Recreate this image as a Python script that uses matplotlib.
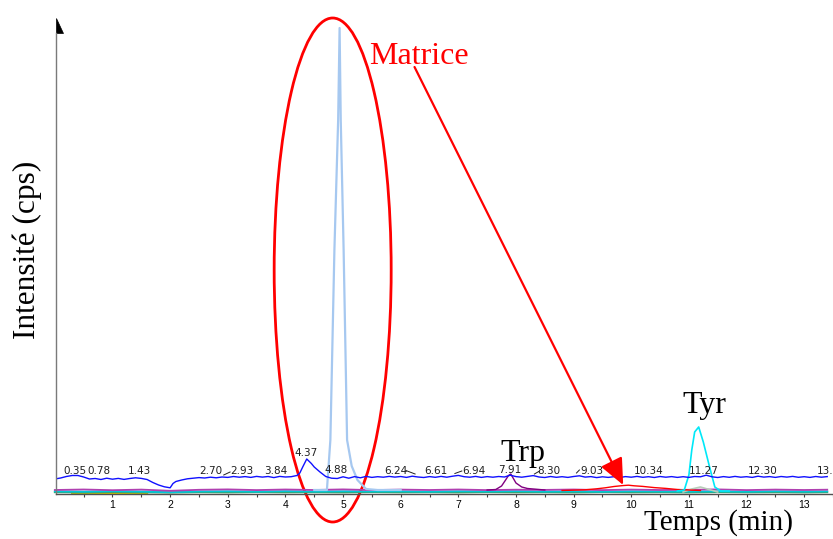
import matplotlib
matplotlib.use('Agg')
import matplotlib.pyplot as plt
from matplotlib.patches import Ellipse, Polygon

# Chromatogram traces (time in min, intensity in arbitrary cps units)
blue_t = [0.0, 0.1, 0.2, 0.3, 0.4, 0.5, 0.6, 0.7, 0.8, 0.9, 1.0, 1.1, 1.2, 1.3, 1.4, 1.5,
          1.6, 1.7, 1.8, 1.9, 2.0, 2.05, 2.1, 2.2, 2.3, 2.4, 2.5, 2.6, 2.7, 2.8, 2.9, 3.0,
          3.1, 3.2, 3.3, 3.4, 3.5, 3.6, 3.7, 3.8, 3.9, 4.0, 4.1, 4.2, 4.25, 4.3, 4.37, 4.45,
          4.5, 4.6, 4.7, 4.8, 4.9, 5.0, 5.1, 5.2, 5.3, 5.4, 5.5, 5.6, 5.7, 5.8, 5.9, 6.0,
          6.1, 6.2, 6.3, 6.4, 6.5, 6.6, 6.7, 6.8, 6.9, 7.0, 7.1, 7.2, 7.3, 7.4, 7.5, 7.6,
          7.7, 7.8, 7.9, 8.0, 8.1, 8.2, 8.3, 8.4, 8.5, 8.6, 8.7, 8.8, 8.9, 9.0, 9.1, 9.2,
          9.3, 9.4, 9.5, 9.6, 9.7, 9.8, 9.9, 10.0, 10.1, 10.2, 10.3, 10.4, 10.5, 10.6, 10.7,
          10.8, 10.9, 11.0, 11.1, 11.2, 11.3, 11.4, 11.5, 11.6, 11.7, 11.8, 11.9, 12.0, 12.1,
          12.2, 12.3, 12.4, 12.5, 12.6, 12.7, 12.8, 12.9, 13.0, 13.1, 13.2, 13.3, 13.4]
blue_y = [15.0, 16.0, 17.5, 18.5, 18.5, 17.0, 15.0, 15.5, 14.5, 15.8, 14.8, 15.6, 14.6, 15.5, 16.2, 15.6,
          14.5, 11.5, 9.0, 7.2, 6.2, 10.5, 12.5, 14.0, 15.2, 15.8, 16.4, 16.0, 16.8, 16.2, 17.0, 16.6,
          17.5, 16.8, 17.4, 16.6, 17.6, 16.9, 17.5, 16.4, 17.6, 17.0, 17.3, 18.5, 21.0, 27.0, 35.0, 30.5,
          27.0, 22.0, 17.5, 15.8, 15.5, 17.2, 15.8, 17.4, 16.2, 17.6, 16.6, 17.3, 16.8, 17.6, 16.9, 17.5,
          16.6, 17.8, 17.0, 16.5, 17.4, 16.7, 17.6, 16.8, 17.8, 18.6, 17.3, 16.8, 17.6, 16.6, 17.4, 16.8,
          17.5, 17.0, 18.8, 17.4, 16.8, 17.6, 18.4, 17.0, 16.5, 17.5, 16.7, 17.3, 16.6, 17.5, 18.2, 16.9,
          17.4, 16.4, 17.2, 16.6, 17.3, 16.5, 17.4, 16.8, 17.6, 16.7, 17.3, 16.5, 17.5, 16.8, 17.4,
          16.6, 17.3, 16.6, 17.5, 17.2, 18.8, 17.2, 16.5, 17.4, 16.7, 17.6, 16.8, 17.3, 16.6,
          17.8, 16.9, 17.4, 16.6, 17.5, 16.9, 17.6, 16.7, 17.3, 16.6, 17.5, 16.8, 17.4]

matrix_t = [4.50, 4.72, 4.78, 4.85, 4.915, 4.94, 4.96, 5.01, 5.07, 5.15, 5.25, 5.40, 5.60, 6.00]
matrix_y = [4, 4, 54, 244, 374, 466, 374, 244, 54, 28, 14, 5, 4, 4]

trp_t = [7.5, 7.65, 7.75, 7.82, 7.87, 7.91, 7.95, 8.0, 8.1, 8.2, 8.3, 8.5]
trp_y = [4, 4.5, 8, 14, 18.5, 20, 16, 11, 7, 5.5, 5, 4]

tyr_t = [10.8, 10.92, 11.0, 11.05, 11.1, 11.17, 11.25, 11.35, 11.45, 11.55, 11.7]
tyr_y = [3, 4, 19, 44, 62, 67, 52, 29, 7, 3, 3]

red_t = [8.8, 9.2, 9.4, 9.55, 9.7, 9.85, 9.95, 10.05, 10.2, 10.4, 10.6, 10.8, 11.2]
red_y = [3.5, 4.2, 5.2, 6.2, 7.5, 8.4, 8.8, 8.2, 7.6, 6.4, 5.6, 4.5, 3.5]

gray_t = [10.9, 11.05, 11.2, 11.35, 11.5]
gray_y = [2, 5, 7, 4.5, 2]

base_t = [0.0, 0.5, 1.0, 1.5, 2.0, 2.5, 3.0, 3.5, 4.0, 4.5, 5.0, 5.5, 6.0, 6.5, 7.0, 7.5,
          8.0, 8.5, 9.0, 9.5, 10.0, 10.5, 11.0, 11.5, 12.0, 12.5, 13.0, 13.4]
magenta_y = [4.0, 4.5, 3.8, 4.4, 3.2, 4.2, 4.6, 3.9, 4.5, 4.0, 4.6, 3.9, 4.4, 4.0, 4.5, 3.9,
             4.3, 4.1, 4.5, 3.9, 4.4, 4.0, 4.2, 4.6, 3.9, 4.4, 4.0, 4.3]
cyan_y = [2.6, 2.3, 2.8, 2.4, 1.8, 2.5, 2.7, 2.3, 2.8, 2.4, 2.7, 2.5, 2.6, 2.3, 2.7, 2.5,
          2.8, 2.4, 2.6, 2.3, 2.7, 2.5, 2.4, 2.6, 2.3, 2.7, 2.4, 2.6]
green_y = [1.8, 1.6, 2.0, 1.7, 1.4, 1.8, 1.6, 1.9, 1.7, 1.8, 1.6, 1.9, 1.7, 1.8, 1.6, 1.9,
           1.7, 1.8, 1.6, 1.9, 1.7, 1.8, 1.6, 1.9, 1.7, 1.8, 1.6, 1.8]
yellow_t = [0.3, 0.7, 1.1, 1.6]
yellow_y = [0.9, 1.1, 0.8, 1.0]

# retention time labels above the blue trace
rt_text = ['0.35', '0.78', '1.43', '2.70', '2.93', '3.84', '4.37', '4.88', '6.24', '6.61',
           '6.94', '7.91', '8.30', '9.03', '10.34', '11.27', '12.30', '13.43']
rt_x = [0.34, 0.77, 1.46, 2.70, 3.25, 3.83, 4.35, 4.88, 5.91, 6.61,
        7.27, 7.89, 8.57, 9.31, 10.31, 11.25, 12.28, 13.48]
rt_y = [23, 23, 22.5, 22.5, 22.5, 23, 41, 24, 23.5, 23.5,
        23, 24, 23, 23, 23, 23, 23, 23]
# little leader lines between label and peak
lead_x = [(2.93, 3.04), (6.09, 6.25), (6.94, 7.06), (8.32, 8.41), (9.05, 9.10)]
lead_y = [(19, 22), (23.5, 20), (20.5, 23), (20, 23), (21, 24)]

fig = plt.figure(figsize=(8.33, 5.39), dpi=100)
ax = fig.add_axes([56 / 833, 45 / 539, 777 / 833, 475 / 539])
ax.set_xlim(0.02, 13.375)
ax.set_ylim(0, 475)

# baseline clutter
ax.plot(yellow_t, yellow_y, color='#d0c000', lw=1.6, clip_on=False)
ax.plot(base_t, green_y, color='#40a060', lw=1.4, clip_on=False)
ax.plot(base_t, cyan_y, color='#00c8d8', lw=1.4, clip_on=False)
ax.plot(base_t, magenta_y, color='#b040b0', lw=1.3, clip_on=False)
ax.plot(gray_t, gray_y, color='#b8ccb8', lw=1.2)
ax.plot(red_t, red_y, color='#ff0000', lw=1.0)
ax.plot(trp_t, trp_y, color='#800080', lw=1.0)
ax.plot(tyr_t, tyr_y, color='#00e8f8', lw=1.2)
ax.plot(matrix_t, matrix_y, color='#a6c8f0', lw=1.6)
ax.plot(blue_t, blue_y, color='#1010ff', lw=1.0)

for t, x, y in zip(rt_text, rt_x, rt_y):
    ax.text(x, y, t, fontsize=7.5, ha='center', va='center', family='DejaVu Sans',
            color='#202020')
for lx, ly in zip(lead_x, lead_y):
    ax.plot(lx, ly, color='#202020', lw=0.7)

# axes styling
for s in ['top', 'right']:
    ax.spines[s].set_visible(False)
ax.spines['left'].set_color('#7a7a7a')
ax.spines['left'].set_linewidth(1.0)
ax.spines['left'].set_bounds(0, 461)
ax.spines['bottom'].set_color('#505050')
ax.spines['bottom'].set_linewidth(1.0)
ax.set_yticks([])
ax.set_xticks(range(1, 14))
ax.set_xticks([x + 0.5 for x in range(0, 14)], minor=True)
ax.tick_params(axis='x', which='both', length=2.5, width=0.8, color='#404040', pad=2,
               labelsize=7.5)
for lab in ax.get_xticklabels():
    lab.set_family('Liberation Sans')

# half arrow head on top of the y axis
ax.add_patch(Polygon([(0, 476 / 475), (0, 461 / 475), (7 / 777, 461 / 475)],
                     closed=True, transform=ax.transAxes, facecolor='black',
                     edgecolor='black', lw=0.5, clip_on=False))

# matrix annotation
ax.add_patch(Ellipse((4.82, 224), 2.03, 504, facecolor='none', edgecolor='#ff0000',
                     lw=2.0, clip_on=False))
ax.annotate('', xy=(9.86, 9), xytext=(6.24, 427),
            arrowprops=dict(arrowstyle='-|>,head_length=0.45,head_width=0.2',
                            mutation_scale=36, color='#ff0000', lw=1.6,
                            shrinkA=0, shrinkB=0))
ax.text(6.31, 437, 'Matrice', fontsize=23, color='#ff0000', family='Liberation Serif',
        ha='center', va='center')
ax.text(8.12, 41, 'Trp', fontsize=23, color='black', family='Liberation Serif',
        ha='center', va='center')
ax.text(11.26, 88, 'Tyr', fontsize=23, color='black', family='Liberation Serif',
        ha='center', va='center')
ax.text(11.52, -29, 'Temps (min)', fontsize=21, color='black', family='Liberation Serif',
        ha='center', va='center')
fig.text(27 / 833, 1 - 250 / 539, 'Intensité (cps)', fontsize=22.5, rotation=90,
         family='Liberation Serif', ha='center', va='center')

fig.savefig('out.png', dpi=100, facecolor='white')
